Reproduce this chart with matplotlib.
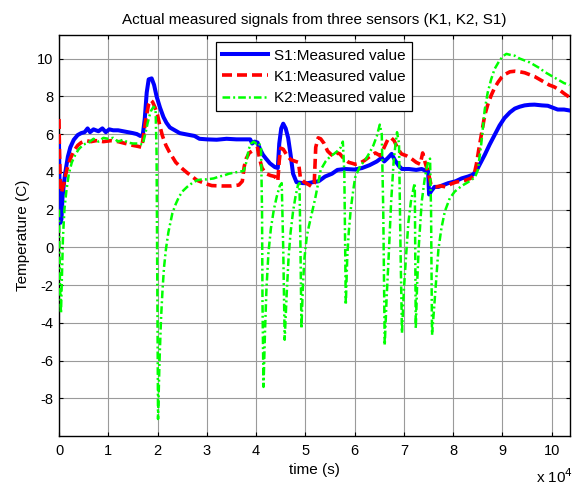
import matplotlib
matplotlib.use("Agg")
import matplotlib.pyplot as plt

plt.rcParams['font.family'] = ['Liberation Sans', 'DejaVu Sans']
plt.rcParams['lines.scale_dashes'] = False

# time in units of 1e4 s
s1_t = [0.00, 0.01, 0.03, 0.05, 0.07, 0.10, 0.13, 0.18, 0.23, 0.30, 0.38, 0.45, 0.52, 0.58, 0.63, 0.70, 0.80, 0.88, 0.95,
        1.02, 1.10, 1.20, 1.30, 1.40, 1.50, 1.58, 1.65, 1.70, 1.74, 1.78, 1.82, 1.88, 1.93, 1.98, 2.05, 2.12, 2.18, 2.25,
        2.35, 2.45, 2.55, 2.65, 2.75, 2.85, 3.00, 3.20, 3.40, 3.60, 3.80, 3.88, 3.92, 3.97, 4.03, 4.08, 4.14, 4.20, 4.28,
        4.38, 4.44, 4.47, 4.51, 4.55, 4.60, 4.65, 4.70, 4.75, 4.82, 4.95, 5.05, 5.15, 5.27, 5.40, 5.54, 5.65, 5.80, 6.00,
        6.15, 6.30, 6.45, 6.55, 6.60, 6.68, 6.75, 6.82, 6.90, 6.96, 7.10, 7.25, 7.36, 7.45, 7.49, 7.51, 7.56, 7.62, 7.70,
        7.80, 7.90, 8.05, 8.17, 8.30, 8.40, 8.48, 8.56, 8.64, 8.74, 8.84, 8.94, 9.04, 9.15, 9.25, 9.35, 9.45, 9.55, 9.65,
        9.80, 9.92, 10.02, 10.12, 10.25, 10.36]
s1_v = [5.5, 3.5, 1.3, 1.5, 2.6, 3.4, 4.0, 4.8, 5.3, 5.7, 5.95, 6.05, 6.1, 6.3, 6.1, 6.25, 6.15, 6.3, 6.1,
        6.25, 6.2, 6.2, 6.15, 6.1, 6.05, 6.0, 5.9, 5.95, 6.8, 8.2, 8.9, 8.95, 8.6, 8.0, 7.4, 6.9, 6.6, 6.35,
        6.2, 6.05, 6.0, 5.95, 5.9, 5.75, 5.72, 5.7, 5.75, 5.72, 5.72, 5.72, 5.5, 5.6, 5.55, 5.2, 4.9, 4.7, 4.45,
        4.25, 4.2, 5.5, 6.3, 6.55, 6.3, 5.8, 4.9, 3.9, 3.45, 3.4, 3.4, 3.45, 3.5, 3.75, 3.9, 4.1, 4.15, 4.12,
        4.2, 4.35, 4.55, 4.75, 4.55, 4.75, 4.95, 4.6, 4.3, 4.15, 4.15, 4.1, 4.15, 4.05, 4.1, 2.8, 3.0, 3.2, 3.2,
        3.3, 3.4, 3.5, 3.65, 3.75, 3.85, 4.1, 4.5, 4.9, 5.45, 5.95, 6.45, 6.85, 7.15, 7.35, 7.45, 7.52, 7.55, 7.56,
        7.52, 7.5, 7.4, 7.3, 7.3, 7.25]

k1_t = [0.00, 0.01, 0.03, 0.05, 0.07, 0.10, 0.13, 0.18, 0.23, 0.30, 0.38, 0.45, 0.55, 0.65, 0.75, 0.90, 1.05, 1.20, 1.35,
        1.50, 1.60, 1.68, 1.72, 1.77, 1.82, 1.86, 1.90, 1.95, 2.00, 2.05, 2.10, 2.17, 2.24, 2.30, 2.37, 2.45, 2.51, 2.60,
        2.70, 2.80, 2.90, 3.00, 3.10, 3.30, 3.50, 3.65, 3.72, 3.76, 3.80, 3.86, 3.95, 4.03, 4.07, 4.12, 4.20, 4.30, 4.38,
        4.44, 4.47, 4.50, 4.55, 4.62, 4.70, 4.80, 4.86, 4.90, 4.98, 5.08, 5.14, 5.18, 5.21, 5.26, 5.31, 5.38, 5.45, 5.51,
        5.58, 5.65, 5.70, 5.78, 5.88, 5.95, 6.01, 6.10, 6.20, 6.30, 6.42, 6.52, 6.60, 6.68, 6.74, 6.80, 6.88, 6.95, 7.05,
        7.15, 7.25, 7.33, 7.38, 7.44, 7.50, 7.55, 7.60, 7.65, 7.75, 7.85, 7.95, 8.05, 8.15, 8.25, 8.35, 8.42, 8.47, 8.52,
        8.58, 8.64, 8.70, 8.77, 8.84, 8.91, 8.98, 9.04, 9.15, 9.25, 9.35, 9.45, 9.55, 9.65, 9.75, 9.85, 9.95, 10.05,
        10.15, 10.25, 10.36]
k1_v = [6.8, 5.0, 3.0, 2.9, 3.1, 3.4, 3.8, 4.3, 4.7, 5.1, 5.4, 5.55, 5.65, 5.6, 5.65, 5.6, 5.65, 5.6, 5.5,
        5.4, 5.35, 5.3, 6.0, 6.9, 7.6, 7.8, 7.7, 7.4, 7.0, 6.4, 5.9, 5.4, 5.05, 4.8, 4.5, 4.3, 4.15, 3.95,
        3.75, 3.55, 3.45, 3.35, 3.27, 3.25, 3.25, 3.3, 3.5, 4.3, 4.7, 5.0, 5.15, 5.25, 4.7, 4.2, 3.9, 3.8, 3.75,
        3.5, 4.6, 5.25, 5.2, 4.9, 4.65, 4.55, 4.5, 3.65, 3.45, 3.3, 3.2, 3.4, 5.3, 5.8, 5.75, 5.5, 5.1, 4.95,
        4.8, 5.0, 4.95, 4.7, 4.5, 4.45, 4.4, 4.45, 4.6, 4.8, 5.0, 4.85, 5.3, 5.75, 5.8, 5.65, 5.2, 4.95, 4.85,
        4.7, 4.5, 4.4, 5.0, 4.4, 3.9, 3.3, 3.2, 3.2, 3.25, 3.2, 3.35, 3.45, 3.5, 3.55, 3.65, 3.8, 4.4, 5.2,
        6.1, 7.0, 7.55, 8.05, 8.45, 8.75, 9.0, 9.15, 9.3, 9.33, 9.3, 9.25, 9.15, 9.05, 8.9, 8.75, 8.6, 8.5,
        8.35, 8.15, 7.95]

k2_t = [0.00, 0.01, 0.02, 0.04, 0.06, 0.08, 0.11, 0.15, 0.20, 0.26, 0.33, 0.40, 0.50, 0.60, 0.70, 0.80, 0.90, 1.00, 1.10,
        1.20, 1.30, 1.40, 1.50, 1.60, 1.70, 1.75, 1.80, 1.86, 1.92, 1.96, 1.98, 1.99, 2.00, 2.01, 2.04, 2.07, 2.10, 2.13,
        2.17, 2.22, 2.30, 2.37, 2.44, 2.52, 2.60, 2.70, 2.80, 2.90, 3.00, 3.14, 3.25, 3.34, 3.45, 3.54, 3.65, 3.75, 3.80,
        3.85, 3.90, 3.95, 4.00, 4.05, 4.10, 4.12, 4.13, 4.15, 4.18, 4.21, 4.25, 4.30, 4.36, 4.42, 4.48, 4.52, 4.55, 4.58,
        4.62, 4.66, 4.70, 4.75, 4.80, 4.85, 4.88, 4.90, 4.92, 4.95, 4.98, 5.03, 5.07, 5.14, 5.20, 5.26, 5.31, 5.41, 5.50,
        5.58, 5.65, 5.72, 5.76, 5.79, 5.82, 5.85, 5.88, 5.92, 5.97, 6.01, 6.11, 6.22, 6.30, 6.38, 6.45, 6.51, 6.55, 6.58,
        6.61, 6.65, 6.69, 6.74, 6.79, 6.83, 6.86, 6.90, 6.93, 6.96, 7.00, 7.05, 7.09, 7.14, 7.20, 7.22, 7.24, 7.27, 7.30,
        7.36, 7.42, 7.46, 7.50, 7.53, 7.55, 7.57, 7.61, 7.66, 7.70, 7.76, 7.83, 7.93, 8.03, 8.17, 8.30, 8.44, 8.50, 8.57,
        8.64, 8.70, 8.77, 8.84, 8.94, 9.02, 9.08, 9.15, 9.25, 9.35, 9.45, 9.55, 9.65, 9.75, 9.85, 9.95, 10.05, 10.15,
        10.25, 10.36]
k2_v = [2.0, 0.0, -2.0, -3.5, -1.5, 0.5, 2.0, 3.0, 3.9, 4.5, 4.9, 5.2, 5.45, 5.55, 5.75, 5.6, 5.8, 5.75, 5.8,
        5.6, 5.7, 5.55, 5.5, 5.5, 5.45, 6.0, 6.6, 7.2, 7.45, 7.3, 5.0, 0.0, -5.0, -9.1, -6.0, -3.8, -2.3, -1.1,
        -0.1, 0.8, 1.8, 2.3, 2.7, 3.0, 3.2, 3.4, 3.55, 3.6, 3.6, 3.65, 3.75, 3.8, 3.9, 3.95, 4.0, 4.05, 4.5,
        5.2, 5.5, 5.6, 5.5, 5.55, 5.3, 2.0, -3.0, -7.4, -4.5, -2.2, -0.3, 1.0, 2.0, 2.7, 3.25, 3.4, 0.0, -4.9,
        -2.5, -0.5, 0.8, 1.9, 2.7, 3.3, 3.4, 0.0, -4.3, -2.0, -0.6, 0.6, 1.1, 1.9, 2.6, 3.4, 4.1, 4.55, 4.8,
        4.95, 5.1, 5.3, 5.6, 4.0, -3.05, -0.5, 0.8, 2.0, 3.0, 3.7, 4.3, 4.65, 5.0, 5.4, 5.9, 6.5, 6.0, 2.0,
        -5.2, -2.6, -0.5, 2.4, 4.5, 5.5, 6.1, 5.5, 0.0, -4.55, -2.2, -0.2, 1.3, 2.4, 3.2, 3.4, -4.3, -1.8, 0.0,
        2.4, 3.6, 4.2, 4.6, 4.7, 2.0, -4.65, -3.3, -1.5, -0.1, 1.0, 1.9, 2.6, 2.95, 3.25, 3.45, 3.7, 4.1, 5.5,
        7.3, 8.2, 8.9, 9.45, 9.9, 10.15, 10.25, 10.2, 10.15, 10.0, 9.9, 9.8, 9.65, 9.5, 9.3, 9.15, 9.0, 8.85,
        8.7, 8.6]

labels = ['S1:Measured value', 'K1:Measured value', 'K2:Measured value']
x_ticks = list(range(0, 11))
y_ticks = list(range(-8, 11, 2))

fig = plt.figure(figsize=(5.74, 4.86), dpi=100)
ax = fig.add_axes([59/574, 50/486, 511/574, 401/486])

ax.plot(s1_t, s1_v, color='#0000ff', lw=2.9, solid_joinstyle='round', label=labels[0], zorder=3)
ax.plot(k1_t, k1_v, color='#ff0000', lw=2.6, dashes=(7.2, 3.6), label=labels[1], zorder=4)
ax.plot(k2_t, k2_v, color='#00ff00', lw=1.8, dashes=(5.5, 2.2, 1.4, 2.2), label=labels[2], zorder=5)

ax.set_xlim(0, 10.37)
ax.set_ylim(-10, 11.25)
ax.set_xticks(x_ticks)
ax.set_xticklabels([str(v) for v in x_ticks])
ax.set_yticks(y_ticks)
ax.set_yticklabels([str(v) for v in y_ticks])
ax.grid(True, color='#9a9a9a', lw=0.8, ls='-')
ax.set_axisbelow(True)
ax.tick_params(direction='in', length=3, width=0.8, top=True, right=True, labelsize=10.5)
ax.tick_params(axis='y', pad=4)
ax.tick_params(axis='x', pad=6)
for sp in ax.spines.values():
    sp.set_linewidth(1.0)
    sp.set_color('black')

ax.set_title('Actual measured signals from three sensors (K1, K2, S1)', fontsize=11, pad=8)
ax.set_xlabel('time (s)', fontsize=11, labelpad=3)
ax.set_ylabel('Temperature (C)', fontsize=11, labelpad=5)
fig.text(536/574, 1 - 477/486, 'x 10$^{4}$', fontsize=11, ha='left', va='center')

leg = ax.legend(loc='upper left', bbox_to_anchor=(0.307, 0.982), borderaxespad=0, fancybox=False,
                edgecolor='black', framealpha=1, fontsize=11, handlelength=3.0, handletextpad=0.4,
                labelspacing=0.47, borderpad=0.42)
leg.get_frame().set_linewidth(0.9)

fig.savefig('out.png', dpi=100)
